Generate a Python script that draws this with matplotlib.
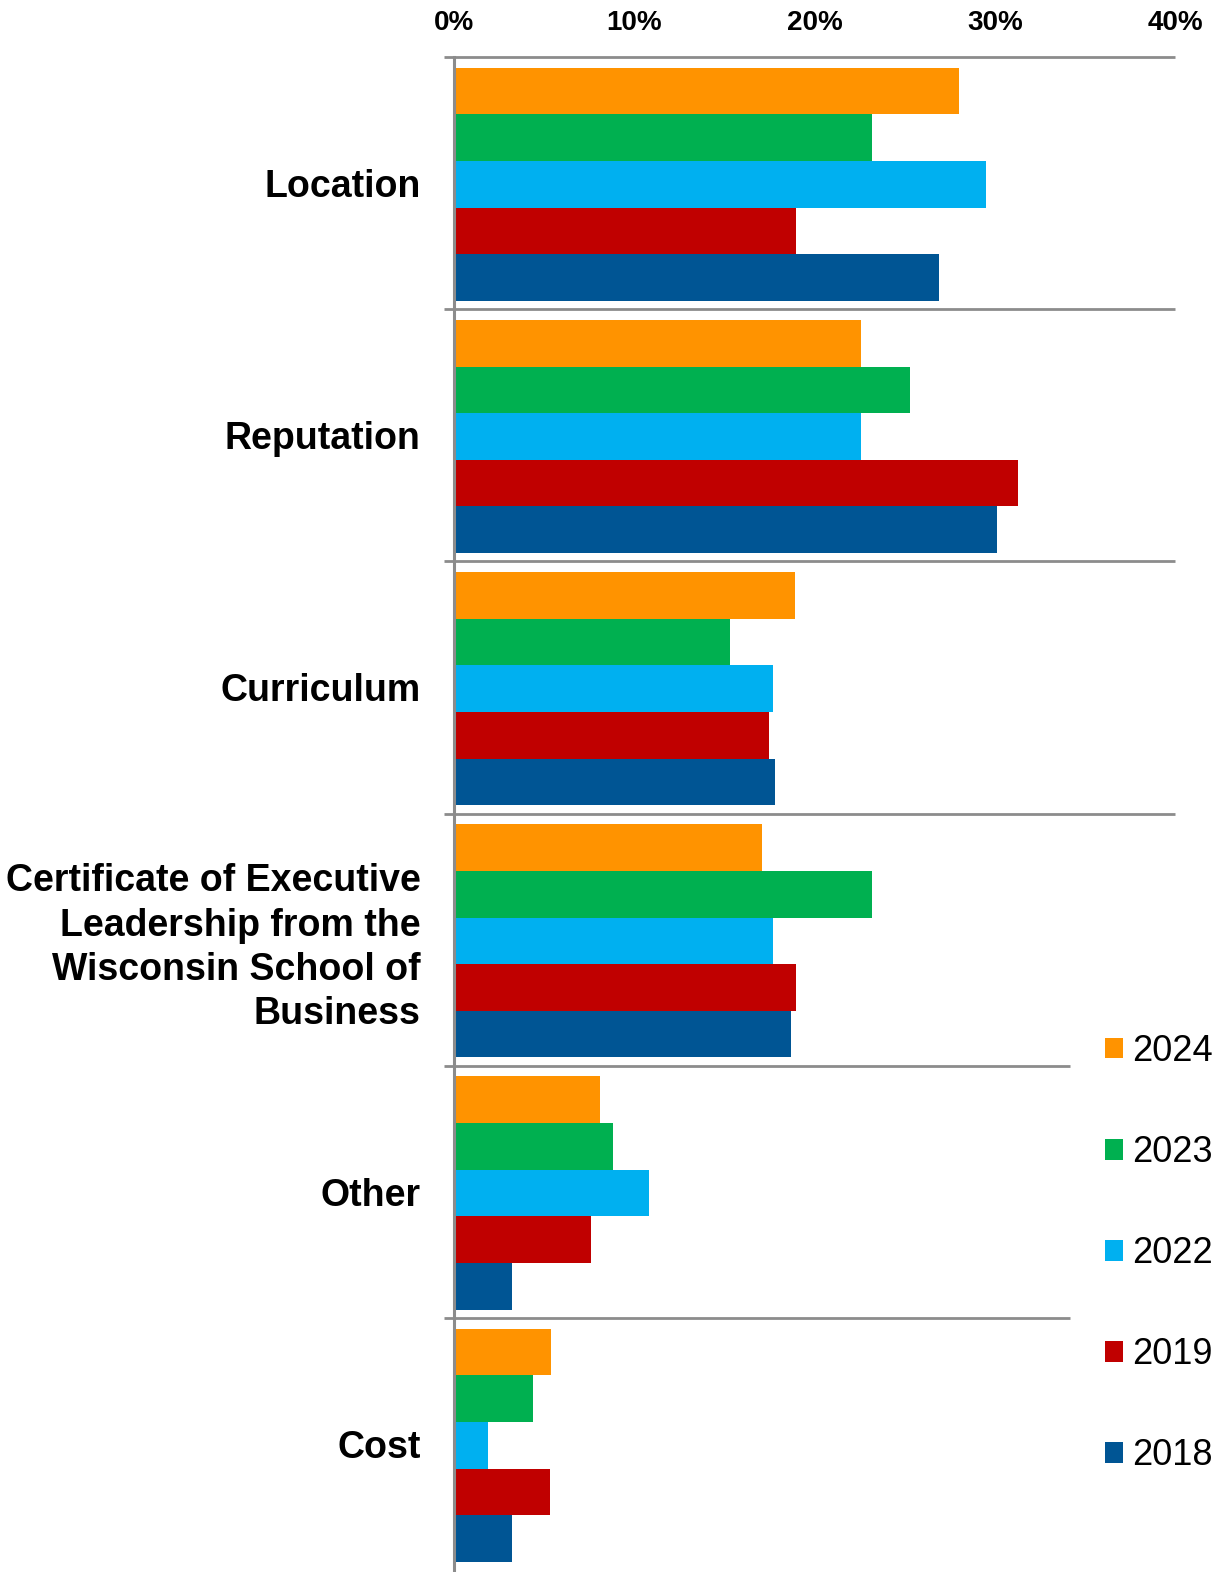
import matplotlib
matplotlib.use("Agg")
import matplotlib.pyplot as plt
import numpy as np

# Reasons for choosing the program, share of respondents (%) by survey year
categories = [
    "Location",
    "Reputation",
    "Curriculum",
    "Certificate of Executive\nLeadership from the\nWisconsin School of\nBusiness",
    "Other",
    "Cost",
]
years = ["2024", "2023", "2022", "2019", "2018"]
values_2024 = [28.0, 22.6, 18.9, 17.1, 8.1, 5.4]
values_2023 = [23.2, 25.3, 15.3, 23.2, 8.8, 4.4]
values_2022 = [29.5, 22.6, 17.7, 17.7, 10.8, 1.9]
values_2019 = [19.0, 31.3, 17.5, 19.0, 7.6, 5.3]
values_2018 = [26.9, 30.1, 17.8, 18.7, 3.2, 3.2]
tick_values = [0, 10, 20, 30, 40]
tick_labels = ["0%", "10%", "20%", "30%", "40%"]

series = [values_2024, values_2023, values_2022, values_2019, values_2018]
colors = ["#FF9300", "#00B050", "#00B0F0", "#C00000", "#005594"]

W, H = 1220, 1572
fig = plt.figure(figsize=(W / 100, H / 100), dpi=100)
ax_left, ax_right, ax_top, ax_bottom = 454, 1175, 57, 1570
ax = fig.add_axes([ax_left / W, 1 - ax_bottom / H,
                   (ax_right - ax_left) / W, (ax_bottom - ax_top) / H])

n = len(series)
block = 0.925
bar_h = block / n
y = np.arange(len(categories))
for k, (vals, col, yr) in enumerate(zip(series, colors, years)):
    offs = -block / 2 + bar_h * (k + 0.5) + 0.005
    ax.barh(y + offs, vals, height=bar_h, color=col, label=yr,
            edgecolor="none", zorder=2)

ax.set_xlim(0, 40)
ax.set_ylim(len(categories) - 0.5, -0.5)

# Group separators (the lower ones stop short of the legend)
grey = "#8C8C8C"
trans = ax.get_yaxis_transform()
tick_out = -10 / (ax_right - ax_left)
short_end = (1070 - ax_left) / (ax_right - ax_left)
for i in range(len(categories)):
    yy = i - 0.5
    x_end = 1.0 if i <= 3 else short_end
    ax.plot([tick_out, x_end], [yy, yy], color=grey, lw=2.0,
            transform=trans, clip_on=False, zorder=3, solid_capstyle="butt")

for s in ["top", "right", "bottom"]:
    ax.spines[s].set_visible(False)
ax.spines["left"].set_color(grey)
ax.spines["left"].set_linewidth(2.2)
ax.spines["left"].set_zorder(4)

ax.xaxis.tick_top()
ax.set_xticks(tick_values)
ax.set_xticklabels(tick_labels, fontsize=20, fontweight="bold",
                   family=["Liberation Sans Narrow", "Liberation Sans"])
ax.tick_params(axis="x", length=0, pad=15)

ax.set_yticks(y)
ax.set_yticklabels(categories, fontsize=27, fontweight="bold",
                   family="Liberation Sans", linespacing=1.3)
ax.tick_params(axis="y", length=0, pad=24)

leg = fig.legend(loc="upper left", bbox_to_anchor=(1105 / W, 1 - 1034 / H),
                 frameon=False,
                 prop={"family": "Liberation Sans", "size": 26},
                 handlelength=0.5, handleheight=0.5, handletextpad=0.25,
                 labelspacing=1.83, borderpad=0, borderaxespad=0)

fig.savefig("out.png", dpi=100)
